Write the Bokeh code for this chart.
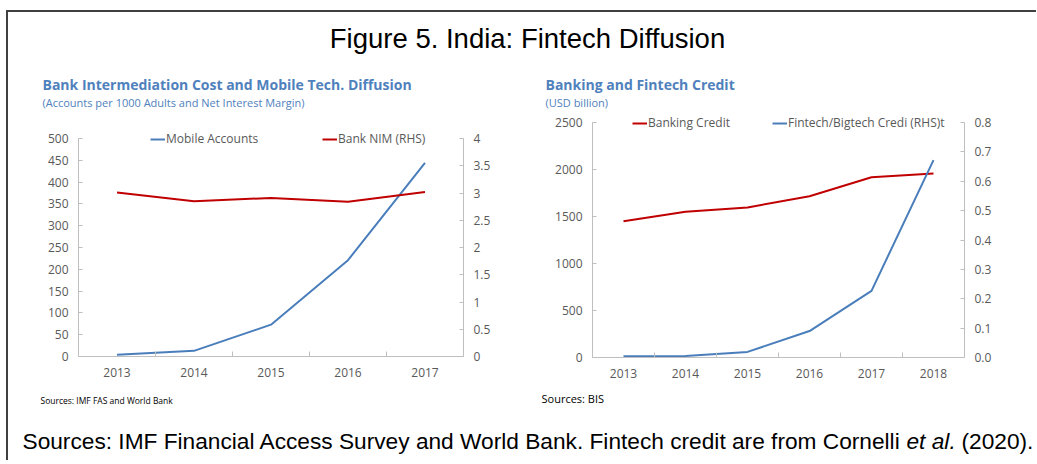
from bokeh.plotting import figure
from bokeh.models import (Range1d, LinearAxis, FixedTicker, NumeralTickFormatter,
                          Legend, LegendItem)
from bokeh.layouts import column, row
from bokeh.embed import file_html
from bokeh.resources import INLINE
from bokeh.core.properties import value

# ---------------- data ----------------
years_left = [2013, 2014, 2015, 2016, 2017]
mobile_accounts = [4, 13, 73, 221, 444]          # accounts per 1000 adults (LHS)
bank_nim = [3.01, 2.85, 2.91, 2.84, 3.02]        # net interest margin (RHS)

years_right = [2013, 2014, 2015, 2016, 2017, 2018]
banking_credit = [1450, 1550, 1596, 1716, 1918, 1958]   # USD billion (LHS)
fintech_credit = [0.004, 0.005, 0.019, 0.09, 0.227, 0.672]  # USD billion (RHS)

left_ticks = [0, 50, 100, 150, 200, 250, 300, 350, 400, 450, 500]
left_rhs_ticks = [0, 0.5, 1, 1.5, 2, 2.5, 3, 3.5, 4]
right_ticks = [0, 500, 1000, 1500, 2000, 2500]
right_rhs_ticks = [0.0, 0.1, 0.2, 0.3, 0.4, 0.5, 0.6, 0.7, 0.8]

# ---------------- styles ----------------
BLUE = "#4A7EBB"
RED = "#C00000"
TITLE_BLUE = "#4F81BD"
AXIS = "#BFBFBF"
TICKTXT = "#595959"
FONT = "Open Sans"
ARIAL = "Liberation Sans"
FW = 1028                  # total content width


def blank(width, height):
    f = figure(width=width, height=height, output_backend="svg", toolbar_location=None,
               x_range=Range1d(0, width), y_range=Range1d(0, height),
               x_axis_type=None, y_axis_type=None, min_border=0)
    f.outline_line_color = None
    f.xgrid.visible = False
    f.ygrid.visible = False
    return f


def put_text(f, x, y, text, font, size, color="#000000", style="normal", align="left"):
    f.text(x=[x], y=[y], text=[text], text_font=value(font), text_font_size=size,
           text_color=color, text_font_style=style, text_align=align,
           text_baseline="middle")


def style_axis(ax, ticks, fmt=None, minor=None):
    ax.ticker = FixedTicker(ticks=ticks, minor_ticks=minor or [])
    if fmt:
        ax.formatter = NumeralTickFormatter(format=fmt)
    ax.axis_line_color = AXIS
    ax.major_tick_line_color = AXIS
    ax.major_tick_in = 4
    ax.major_tick_out = 0
    ax.minor_tick_line_color = None
    ax.major_label_text_font = FONT
    ax.major_label_text_font_size = "12px"
    ax.major_label_text_color = TICKTXT
    ax.major_label_standoff = 10


def make_panel(width, height, years, lhs_vals, lhs_ticks, lhs_fmt,
               rhs_vals, rhs_ticks, rhs_fmt, lhs_color, rhs_color,
               borders, head_room):
    # head_room: fraction of empty space kept above the top tick (room for the legend)
    bl, br, bt, bb = borders
    p = figure(width=width, height=height, output_backend="svg", toolbar_location=None,
               x_range=Range1d(years[0] - 0.5, years[-1] + 0.5),
               y_range=Range1d(lhs_ticks[0], lhs_ticks[-1] * head_room),
               min_border_left=bl, min_border_right=br,
               min_border_top=bt, min_border_bottom=bb,
               x_axis_type=None, y_axis_type=None)
    p.outline_line_color = None
    p.xgrid.visible = False
    p.ygrid.visible = False
    p.extra_y_ranges = {"rhs": Range1d(rhs_ticks[0], rhs_ticks[-1] * head_room)}

    xax = LinearAxis()
    style_axis(xax, years, minor=[y + 0.5 for y in years[:-1]])
    xax.major_tick_line_color = None
    xax.minor_tick_line_color = AXIS
    xax.minor_tick_in = 5
    xax.minor_tick_out = 0
    xax.major_label_standoff = 11
    p.add_layout(xax, "below")

    lax = LinearAxis(bounds=(lhs_ticks[0], lhs_ticks[-1]))
    style_axis(lax, lhs_ticks, lhs_fmt)
    p.add_layout(lax, "left")

    rax = LinearAxis(y_range_name="rhs", bounds=(rhs_ticks[0], rhs_ticks[-1]))
    style_axis(rax, rhs_ticks, rhs_fmt)
    p.add_layout(rax, "right")

    r1 = p.line(years, lhs_vals, line_color=lhs_color, line_width=2)
    r2 = p.line(years, rhs_vals, line_color=rhs_color, line_width=2, y_range_name="rhs")
    return p, r1, r2


def add_legend(p, label, rend, loc):
    lg = Legend(items=[LegendItem(label=label, renderers=[rend])], location=loc,
                orientation="horizontal", border_line_color=None,
                background_fill_alpha=0, padding=0, margin=0,
                glyph_width=15, glyph_height=14, label_height=14,
                label_standoff=1, label_text_font=FONT,
                label_text_font_size="12px", label_text_color=TICKTXT)
    p.add_layout(lg)


LW, RW = 512, 516          # panel widths
PH = 278                   # plot figure height

# ---------------- header ----------------
top = blank(FW, 56)
put_text(top, 519, 30, "Figure 5. India: Fintech Diffusion", ARIAL, "27.5px", align="center")

# ---------------- panel titles ----------------
titles = blank(FW, 44)
put_text(titles, 34, 28, "Bank Intermediation Cost and Mobile Tech. Diffusion", FONT, "14px", TITLE_BLUE, "bold")
put_text(titles, 34, 10, "(Accounts per 1000 Adults and Net Interest Margin)", FONT, "11px", TITLE_BLUE)
put_text(titles, 537, 28, "Banking and Fintech Credit", FONT, "14px", TITLE_BLUE, "bold")
put_text(titles, 537, 10, "(USD billion)", FONT, "11px", TITLE_BLUE)

# ---------------- left panel ----------------
pl, rl1, rl2 = make_panel(LW, PH, years_left, mobile_accounts, left_ticks, None,
                          bank_nim, left_rhs_ticks, "0.[0]", BLUE, RED,
                          (70, 57, 14, 34), 230 / 218)
add_legend(pl, "Mobile Accounts", rl1, (72, 209))
add_legend(pl, "Bank NIM (RHS)", rl2, (244, 209))

# ---------------- right panel ----------------
pr, rr1, rr2 = make_panel(RW, PH, years_right, banking_credit, right_ticks, None,
                          fintech_credit, right_rhs_ticks, "0.0", RED, BLUE,
                          (72, 72, 1, 33), 244 / 235)
add_legend(pr, "Banking Credit", rr1, (40, 226))
add_legend(pr, "Fintech/Bigtech Credi (RHS)t", rr2, (180, 226))

# ---------------- panel sources ----------------
srcs = blank(FW, 20)
put_text(srcs, 32, 10, "Sources: IMF FAS and World Bank", FONT, "8.5px")
put_text(srcs, 533, 12, "Sources: BIS", FONT, "11px")

# ---------------- footer ----------------
bot = blank(FW, 50)
put_text(bot, 14, 20, "Sources: IMF Financial Access Survey and World Bank. Fintech credit are from Cornelli",
         ARIAL, "22.7px")
put_text(bot, 898, 20, "et al.", ARIAL, "22.7px", style="italic")
put_text(bot, 953, 20, "(2020).", ARIAL, "22.7px")

layout = column(top, titles,
                row(column(pl), column(pr)),
                srcs, bot,
                styles={"border-top": "2px solid #404040", "border-left": "2px solid #404040",
                        "margin-left": "6px", "margin-top": "10px"})

open("out.html", "w").write(file_html(layout, INLINE))
